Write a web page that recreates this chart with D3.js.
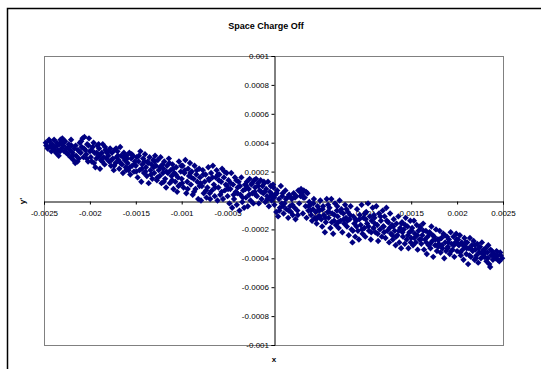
<!DOCTYPE html>
<html><head><meta charset="utf-8">
<script src="https://cdn.jsdelivr.net/npm/d3@7"></script>
<style>html,body{margin:0;padding:0;background:#fff;}svg{display:block;}</style>
</head><body>
<svg id="chart" width="541" height="369"></svg>
<script>
const chartTitle = "Space Charge Off";
const xTitle = "x";
const yTitle = "y'";
const xTicks = [-0.0025,-0.002,-0.0015,-0.001,-0.0005,0,0.0005,0.001,0.0015,0.002,0.0025];
const xTickLabels = ["-0.0025","-0.002","-0.0015","-0.001","-0.0005","0","0.0005","0.001","0.0015","0.002","0.0025"];
const yTicks = [-0.001,-0.0008,-0.0006,-0.0004,-0.0002,0,0.0002,0.0004,0.0006,0.0008,0.001];
const yTickLabels = ["-0.001","-0.0008","-0.0006","-0.0004","-0.0002","0","0.0002","0.0004","0.0006","0.0008","0.001"];
// [x, y'] pairs
const scatterPoints = [
[-0.00248,0.00040],[-0.00246,0.00036],[-0.00244,0.00041],[-0.00243,0.00038],[-0.00242,0.00034],[-0.00241,0.00039],[-0.00240,0.00036],
[-0.00239,0.00042],[-0.00238,0.00037],[-0.00237,0.00033],[-0.00236,0.00040],[-0.00235,0.00035],[-0.00234,0.00031],[-0.00233,0.00039],[-0.00232,0.00042],[-0.00231,0.00036],
[-0.00230,0.00043],[-0.00229,0.00038],[-0.00228,0.00034],[-0.00227,0.00041],[-0.00226,0.00036],[-0.00224,0.00032],[-0.00223,0.00039],[-0.00222,0.00035],[-0.00221,0.00030],
[-0.00220,0.00038],[-0.00219,0.00033],[-0.00218,0.00028],[-0.00217,0.00036],[-0.00216,0.00026],[-0.00215,0.00031],[-0.00213,0.00035],[-0.00212,0.00029],[-0.00211,0.00040],
[-0.00210,0.00033],[-0.00209,0.00037],[-0.00208,0.00043],[-0.00207,0.00030],[-0.00206,0.00044],[-0.00205,0.00035],[-0.00204,0.00032],[-0.00203,0.00039],[-0.00202,0.00027],[-0.00201,0.00043],
[-0.00200,0.00034],[-0.00199,0.00030],[-0.00198,0.00027],[-0.00197,0.00037],[-0.00196,0.00040],[-0.00195,0.00033],[-0.00194,0.00023],[-0.00193,0.00029],[-0.00192,0.00038],[-0.00191,0.00031],
[-0.00190,0.00036],[-0.00189,0.00022],[-0.00188,0.00028],[-0.00187,0.00033],[-0.00186,0.00039],[-0.00185,0.00030],[-0.00184,0.00025],[-0.00183,0.00035],[-0.00182,0.00029],
[-0.00180,0.00031],[-0.00179,0.00027],[-0.00178,0.00036],[-0.00177,0.00024],[-0.00176,0.00033],[-0.00175,0.00029],[-0.00174,0.00021],[-0.00173,0.00035],[-0.00172,0.00026],[-0.00171,0.00030],
[-0.00170,0.00034],[-0.00169,0.00028],[-0.00168,0.00022],[-0.00167,0.00037],[-0.00166,0.00031],[-0.00165,0.00025],[-0.00164,0.00019],[-0.00163,0.00033],[-0.00162,0.00028],[-0.00161,0.00023],
[-0.00160,0.00031],[-0.00159,0.00026],[-0.00158,0.00021],[-0.00157,0.00033],[-0.00156,0.00018],[-0.00155,0.00029],[-0.00154,0.00024],[-0.00153,0.00031],[-0.00152,0.00020],[-0.00151,0.00027],
[-0.00150,0.00024],[-0.00149,0.00030],[-0.00148,0.00016],[-0.00147,0.00027],[-0.00146,0.00021],[-0.00145,0.00034],[-0.00144,0.00013],[-0.00143,0.00025],[-0.00142,0.00029],[-0.00141,0.00019],
[-0.00140,0.00032],[-0.00139,0.00023],[-0.00138,0.00017],[-0.00137,0.00027],[-0.00136,0.00012],[-0.00135,0.00030],[-0.00134,0.00021],[-0.00133,0.00025],[-0.00132,0.00015],[-0.00131,0.00028],
[-0.00130,0.00019],[-0.00129,0.00031],[-0.00128,0.00024],[-0.00127,0.00014],[-0.00126,0.00028],[-0.00125,0.00021],[-0.00124,0.00017],[-0.00123,0.00030],[-0.00122,0.00012],[-0.00121,0.00025],
[-0.00120,0.00022],[-0.00119,0.00027],[-0.00118,0.00015],[-0.00117,0.00009],[-0.00116,0.00024],[-0.00115,0.00019],[-0.00114,0.00029],[-0.00113,0.00012],[-0.00112,0.00021],[-0.00111,0.00017],
[-0.00110,0.00025],[-0.00109,0.00008],[-0.00108,0.00019],[-0.00107,0.00013],[-0.00106,0.00023],[-0.00105,0.00006],[-0.00104,0.00016],[-0.00103,0.00027],[-0.00102,0.00011],[-0.00101,0.00020],
[-0.00100,0.00015],[-0.00099,0.00024],[-0.00098,0.00009],[-0.00097,0.00019],[-0.00096,0.00028],[-0.00095,0.00005],[-0.00094,0.00013],[-0.00093,0.00022],[-0.00092,0.00017],[-0.00091,0.00026],
[-0.00090,0.00011],[-0.00089,0.00020],[-0.00088,0.00004],[-0.00087,0.00015],[-0.00086,0.00024],[-0.00085,0.00008],[-0.00084,0.00018],[-0.00083,0.00013],[-0.00082,0.00001],[-0.00081,0.00022],
[-0.00080,0.00016],[-0.00079,0.00000],[-0.00078,0.00010],[-0.00077,0.00021],[-0.00076,0.00005],[-0.00075,0.00013],[-0.00074,0.00018],[-0.00073,0.00002],[-0.00072,0.00009],[-0.00071,0.00023],
[-0.00070,0.00014],[-0.00069,0.00001],[-0.00068,0.00019],[-0.00067,0.00007],[-0.00066,0.00024],[-0.00065,0.00011],[-0.00064,0.00003],[-0.00063,0.00016],[-0.00062,0.00021],[-0.00061,0.00000],
[-0.00060,0.00009],[-0.00059,0.00018],[-0.00058,0.00004],[-0.00057,0.00013],[-0.00056,0.00022],[-0.00055,0.00001],[-0.00054,0.00016],[-0.00053,0.00007],[-0.00052,0.00011],[-0.00051,0.00019],
[-0.00050,0.00003],[-0.00049,0.00014],[-0.00048,-0.00002],[-0.00047,0.00008],[-0.00046,0.00019],[-0.00045,-0.00005],[-0.00044,0.00011],[-0.00043,0.00001],[-0.00042,0.00016],[-0.00041,0.00006],
[-0.00040,-0.00003],[-0.00039,0.00009],[-0.00038,0.00013],[-0.00037,-0.00007],[-0.00036,0.00004],[-0.00035,0.00016],[-0.00034,-0.00001],[-0.00033,0.00007],[-0.00032,-0.00005],[-0.00031,0.00011],
[-0.00030,0.00002],[-0.00029,0.00013],[-0.00028,-0.00004],[-0.00027,0.00008],[-0.00026,0.00015],[-0.00025,0.00000],[-0.00024,0.00011],[-0.00023,0.00005],[-0.00022,-0.00002],[-0.00021,0.00014],
[-0.00020,0.00009],[-0.00019,0.00015],[-0.00018,0.00003],[-0.00017,0.00012],[-0.00016,-0.00002],[-0.00015,0.00007],[-0.00014,0.00014],[-0.00013,0.00001],[-0.00012,0.00010],[-0.00011,0.00005],
[-0.00010,0.00012],[-0.00009,-0.00001],[-0.00008,0.00008],[-0.00007,0.00003],[-0.00006,0.00013],[-0.00005,-0.00004],[-0.00004,0.00006],[-0.00003,0.00010],[-0.00002,0.00000],[-0.00001,0.00004],
[0.00000,0.00009],[0.00001,-0.00003],[0.00002,0.00004],[0.00003,-0.00008],[0.00004,0.00007],[0.00005,-0.00011],[0.00006,0.00001],[0.00007,-0.00005],[0.00008,0.00010],[0.00009,-0.00002],
[0.00010,0.00005],[0.00011,-0.00009],[0.00012,-0.00002],[0.00013,0.00007],[0.00014,-0.00006],[0.00015,0.00002],[0.00016,-0.00012],[0.00017,0.00004],[0.00018,-0.00004],[0.00019,-0.00008],
[0.00020,0.00001],[0.00021,-0.00010],[0.00022,0.00005],[0.00023,-0.00005],[0.00024,-0.00013],[0.00025,0.00003],[0.00026,-0.00007],[0.00027,0.00007],[0.00028,-0.00002],[0.00029,0.00006],
[0.00030,0.00008],[0.00031,0.00004],[0.00032,-0.00009],[0.00033,0.00007],[0.00034,0.00002],[0.00035,-0.00004],[0.00036,-0.00012],[0.00037,0.00005],[0.00038,-0.00007],[0.00039,-0.00001],
[0.00040,-0.00003],[0.00041,-0.00010],[0.00042,-0.00014],[0.00043,-0.00006],[0.00044,0.00001],[0.00045,-0.00012],[0.00046,-0.00008],[0.00047,-0.00016],[0.00048,-0.00004],[0.00049,-0.00011],
[0.00050,-0.00007],[0.00051,0.00000],[0.00052,-0.00013],[0.00053,-0.00018],[0.00054,-0.00004],[0.00055,-0.00010],[0.00056,-0.00022],[0.00057,-0.00015],[0.00058,0.00001],[0.00059,-0.00008],
[0.00060,-0.00012],[0.00061,-0.00005],[0.00062,-0.00019],[0.00063,0.00001],[0.00064,-0.00009],[0.00065,-0.00023],[0.00066,-0.00014],[0.00067,-0.00002],[0.00068,-0.00017],[0.00069,-0.00007],
[0.00070,-0.00011],[0.00071,-0.00019],[0.00072,0.00000],[0.00073,-0.00014],[0.00074,-0.00006],[0.00075,-0.00022],[0.00076,-0.00009],[0.00077,-0.00016],[0.00078,-0.00003],[0.00079,-0.00012],
[0.00080,-0.00018],[0.00081,-0.00008],[0.00082,-0.00024],[0.00083,-0.00013],[0.00084,-0.00004],[0.00085,-0.00020],[0.00086,-0.00029],[0.00087,-0.00011],[0.00088,-0.00016],[0.00089,-0.00025],
[0.00090,-0.00014],[0.00091,-0.00006],[0.00092,-0.00021],[0.00093,-0.00027],[0.00094,-0.00010],[0.00095,-0.00017],[0.00096,-0.00003],[0.00097,-0.00023],[0.00098,-0.00012],[0.00099,-0.00019],
[0.00100,-0.00025],[0.00101,-0.00008],[0.00102,-0.00016],[0.00103,-0.00002],[0.00104,-0.00021],[0.00105,-0.00011],[0.00106,-0.00027],[0.00107,-0.00014],[0.00108,-0.00005],[0.00109,-0.00019],
[0.00110,-0.00012],[0.00111,-0.00022],[0.00112,-0.00004],[0.00113,-0.00017],[0.00114,-0.00028],[0.00115,-0.00009],[0.00116,-0.00020],[0.00117,-0.00014],[0.00118,-0.00025],[0.00119,-0.00007],
[0.00120,-0.00018],[0.00121,-0.00011],[0.00122,-0.00026],[0.00123,-0.00005],[0.00124,-0.00021],[0.00125,-0.00015],[0.00126,-0.00029],[0.00127,-0.00009],[0.00128,-0.00023],[0.00129,-0.00017],
[0.00130,-0.00027],[0.00131,-0.00013],[0.00132,-0.00021],[0.00133,-0.00031],[0.00134,-0.00016],[0.00135,-0.00024],[0.00136,-0.00011],[0.00137,-0.00029],[0.00138,-0.00019],[0.00139,-0.00033],
[0.00140,-0.00015],[0.00141,-0.00025],[0.00142,-0.00020],[0.00143,-0.00030],[0.00144,-0.00012],[0.00145,-0.00027],[0.00146,-0.00018],[0.00147,-0.00033],[0.00148,-0.00022],[0.00149,-0.00014],
[0.00150,-0.00026],[0.00151,-0.00019],[0.00152,-0.00031],[0.00153,-0.00014],[0.00154,-0.00023],[0.00155,-0.00029],[0.00156,-0.00017],[0.00157,-0.00034],[0.00158,-0.00021],[0.00159,-0.00027],
[0.00160,-0.00019],[0.00161,-0.00030],[0.00162,-0.00024],[0.00163,-0.00016],[0.00164,-0.00034],[0.00165,-0.00027],[0.00166,-0.00021],[0.00167,-0.00037],[0.00168,-0.00025],[0.00169,-0.00031],
[0.00170,-0.00022],[0.00171,-0.00033],[0.00172,-0.00018],[0.00173,-0.00028],[0.00174,-0.00039],[0.00175,-0.00025],[0.00176,-0.00031],[0.00177,-0.00020],[0.00178,-0.00035],[0.00179,-0.00027],
[0.00180,-0.00030],[0.00181,-0.00021],[0.00182,-0.00036],[0.00183,-0.00026],[0.00184,-0.00033],[0.00185,-0.00023],[0.00186,-0.00040],[0.00187,-0.00029],[0.00188,-0.00035],[0.00189,-0.00025],
[0.00190,-0.00032],[0.00191,-0.00027],[0.00192,-0.00037],[0.00193,-0.00022],[0.00194,-0.00030],[0.00195,-0.00034],[0.00196,-0.00025],[0.00197,-0.00039],[0.00198,-0.00029],[0.00199,-0.00023],
[0.00200,-0.00035],[0.00201,-0.00027],[0.00202,-0.00031],[0.00203,-0.00024],[0.00204,-0.00038],[0.00205,-0.00029],[0.00206,-0.00034],[0.00207,-0.00041],[0.00208,-0.00026],[0.00209,-0.00032],
[0.00210,-0.00037],[0.00211,-0.00029],[0.00212,-0.00044],[0.00213,-0.00033],[0.00214,-0.00026],[0.00215,-0.00039],[0.00216,-0.00031],[0.00217,-0.00035],[0.00218,-0.00028],[0.00219,-0.00041],
[0.00220,-0.00034],[0.00221,-0.00038],[0.00222,-0.00030],[0.00223,-0.00043],[0.00224,-0.00036],[0.00225,-0.00032],[0.00226,-0.00040],[0.00227,-0.00029],[0.00228,-0.00037],[0.00229,-0.00034],
[0.00230,-0.00039],[0.00231,-0.00033],[0.00232,-0.00042],[0.00233,-0.00036],[0.00234,-0.00031],[0.00235,-0.00044],[0.00236,-0.00046],[0.00237,-0.00038],[0.00238,-0.00035],[0.00239,-0.00041],
[0.00240,-0.00037],[0.00242,-0.00040],[0.00243,-0.00035],[0.00244,-0.00038],[0.00246,-0.00042],[0.00247,-0.00036],[0.00249,-0.00040],
[-0.002475,0.00038],[-0.002445,0.00042],[-0.002415,0.00037],
[-0.002385,0.00035],[-0.002355,0.00038],[-0.002325,0.00034],[-0.002305,0.00041],
[-0.002285,0.00040],[-0.002255,0.00033],[-0.002235,0.00037],[-0.002205,0.00042],
[-0.002185,0.00031],[-0.002155,0.00038],[-0.002135,0.00027],[-0.002115,0.00034],
[-0.002095,0.00041],[-0.002065,0.00036],[-0.002035,0.00029],[-0.002015,0.00038],
[-0.001985,0.00035],[-0.001955,0.00026],[-0.001925,0.00033],[-0.001905,0.00039],
[-0.001895,0.00031],[-0.001865,0.00027],[-0.001835,0.00037],[-0.001815,0.00033],
[-0.001795,0.00034],[-0.001765,0.00028],[-0.001735,0.00024],[-0.001715,0.00036],
[-0.001695,0.00031],[-0.001665,0.00026],[-0.001635,0.00030],[-0.001605,0.00021],
[-0.001595,0.00029],[-0.001565,0.00023],[-0.001545,0.00032],[-0.001515,0.00025],
[-0.001495,0.00020],[-0.001465,0.00031],[-0.001435,0.00022],[-0.001405,0.00027],
[-0.001395,0.00020],[-0.001365,0.00026],[-0.001335,0.00018],[-0.001305,0.00023],
[-0.001295,0.00027],[-0.001265,0.00016],[-0.001235,0.00023],[-0.001205,0.00019],
[-0.001195,0.00013],[-0.001165,0.00020],[-0.001135,0.00026],[-0.001105,0.00014],
[-0.001095,0.00022],[-0.001065,0.00018],[-0.001035,0.00010],[-0.001005,0.00024],
[-0.000995,0.00012],[-0.000965,0.00021],[-0.000935,0.00008],[-0.000905,0.00019],
[-0.000895,0.00016],[-0.000865,0.00006],[-0.000835,0.00021],[-0.000805,0.00010],
[-0.000795,0.00012],[-0.000765,0.00018],[-0.000735,0.00007],[-0.000705,0.00015],
[-0.000695,0.00005],[-0.000665,0.00016],[-0.000635,0.00009],[-0.000605,0.00018],
[-0.000595,0.00014],[-0.000565,0.00006],[-0.000535,0.00020],[-0.000505,0.00010],
[-0.000495,0.00008],[-0.000465,0.00012],[-0.000435,0.00004],[-0.000405,0.00014],
[-0.000395,0.00005],[-0.000365,0.00010],[-0.000335,0.00002],[-0.000305,0.00008],
[-0.000295,0.00010],[-0.000265,0.00004],[-0.000235,0.00012],[-0.000205,0.00006],
[-0.000195,0.00004],[-0.000165,0.00010],[-0.000135,0.00006],[-0.000105,0.00013],
[-0.000095,0.00006],[-0.000065,0.00001],[-0.000035,0.00003],[-0.000005,0.00011],
[0.000005,0.00002],[0.000035,0.00005],[0.000065,-0.00007],[0.000095,0.00003],
[0.000105,-0.00004],[0.000135,0.00001],[0.000165,-0.00007],[0.000195,0.00002],
[0.000205,-0.00003],[0.000235,0.00002],[0.000265,-0.00010],[0.000295,0.00003],
[0.000305,0.00005],[0.000325,0.00002],[0.000355,0.00006],[0.000385,-0.00004],
[0.000405,-0.00007],[0.000435,-0.00002],[0.000465,-0.00013],[0.000495,-0.00006],
[0.000505,-0.00011],[0.000535,-0.00006],[0.000565,-0.00012],[0.000595,-0.00003],
[0.000605,-0.00008],[0.000635,-0.00015],[0.000665,-0.00010],[0.000695,-0.00004],
[0.000705,-0.00015],[0.000735,-0.00008],[0.000765,-0.00013],[0.000795,-0.00006],
[0.000805,-0.00014],[0.000835,-0.00010],[0.000865,-0.00021],[0.000895,-0.00013],
[0.000905,-0.00018],[0.000935,-0.00013],[0.000965,-0.00020],[0.000995,-0.00009],
[0.001005,-0.00013],[0.001035,-0.00018],[0.001065,-0.00022],[0.001095,-0.00010],
[0.001105,-0.00016],[0.001135,-0.00023],[0.001165,-0.00011],[0.001195,-0.00018],
[0.001205,-0.00022],[0.001235,-0.00014],[0.001265,-0.00019],[0.001295,-0.00024],
[0.001305,-0.00018],[0.001335,-0.00025],[0.001365,-0.00021],[0.001395,-0.00016],
[0.001405,-0.00022],[0.001435,-0.00017],[0.001465,-0.00024],[0.001495,-0.00029],
[0.001505,-0.00021],[0.001535,-0.00026],[0.001565,-0.00024],[0.001595,-0.00018],
[0.001605,-0.00027],[0.001635,-0.00021],[0.001665,-0.00029],[0.001695,-0.00023],
[0.001705,-0.00030],[0.001735,-0.00024],[0.001765,-0.00027],[0.001795,-0.00032],
[0.001805,-0.00027],[0.001835,-0.00031],[0.001865,-0.00024],[0.001895,-0.00033],
[0.001905,-0.00029],[0.001935,-0.00035],[0.001965,-0.00031],[0.001995,-0.00027],
[0.002005,-0.00030],[0.002035,-0.00036],[0.002065,-0.00031],[0.002095,-0.00029],
[0.002105,-0.00033],[0.002135,-0.00038],[0.002165,-0.00034],[0.002195,-0.00031],
[0.002205,-0.00040],[0.002235,-0.00033],[0.002265,-0.00036],[0.002295,-0.00039],
[0.002305,-0.00036],[0.002335,-0.00040],[0.002365,-0.00034],[0.002395,-0.00038],
[0.002415,-0.00039],[0.002445,-0.00041],[0.002475,-0.00038]
];

const svg = d3.select("#chart");
const font = "'Liberation Sans', Arial, sans-serif";
const plot = {left: 44, right: 503, top: 56, bottom: 345};

const x = d3.scaleLinear().domain([-0.0025, 0.0025]).range([plot.left, plot.right]);
const y = d3.scaleLinear().domain([-0.001, 0.001]).range([plot.bottom, plot.top]);

// outer chart area border
svg.append("rect").attr("x", 7.5).attr("y", 8.5).attr("width", 560).attr("height", 400)
  .attr("fill", "#fff").attr("stroke", "#000").attr("stroke-width", 1.5);

// plot area border
svg.append("rect").attr("x", plot.left + 0.5).attr("y", plot.top + 0.5)
  .attr("width", plot.right - plot.left).attr("height", plot.bottom - plot.top)
  .attr("fill", "none").attr("stroke", "#808080").attr("stroke-width", 1);

// title
svg.append("text").attr("x", 266).attr("y", 29).attr("text-anchor", "middle")
  .attr("font-family", font).attr("font-weight", "bold").attr("font-size", 9)
  .text(chartTitle);

// x axis crossing at y'=0
const xAxis = d3.axisBottom(x).tickValues(xTicks).tickSize(3).tickPadding(6)
  .tickFormat((d, i) => xTickLabels[i]);
const gx = svg.append("g").attr("transform", `translate(0,${Math.round(y(0)) + 0.5})`).call(xAxis);
gx.select(".domain").attr("stroke", "#000");
gx.selectAll(".tick line").attr("stroke", "#000");
gx.selectAll("text").attr("font-family", font).attr("font-size", 8).attr("fill", "#000");
gx.selectAll(".tick").filter(d => d === 0).select("text").remove();

// y axis crossing at x=0
const yAxis = d3.axisLeft(y).tickValues(yTicks).tickSize(3).tickPadding(2.5)
  .tickFormat((d, i) => yTickLabels[i]);
const gy = svg.append("g").attr("transform", `translate(${Math.round(x(0)) + 0.5},0)`).call(yAxis);
gy.select(".domain").attr("stroke", "#000");
gy.selectAll(".tick line").attr("stroke", "#000");
gy.selectAll("text").attr("font-family", font).attr("font-size", 8).attr("fill", "#000");

// axis titles
svg.append("text").attr("x", 274).attr("y", 362).attr("text-anchor", "middle")
  .attr("font-family", font).attr("font-weight", "bold").attr("font-size", 8).text(xTitle);
svg.append("text").attr("transform", "translate(25,201) rotate(-90)").attr("text-anchor", "middle")
  .attr("font-family", font).attr("font-weight", "bold").attr("font-size", 8).text(yTitle);

// points (diamond markers)
const diamond = "M0,-3.2L3.2,0L0,3.2L-3.2,0Z";
svg.append("g").selectAll("path").data(scatterPoints).join("path")
  .attr("d", diamond)
  .attr("transform", d => `translate(${x(d[0])},${y(d[1])})`)
  .attr("fill", "#000080");
</script>
</body></html>
